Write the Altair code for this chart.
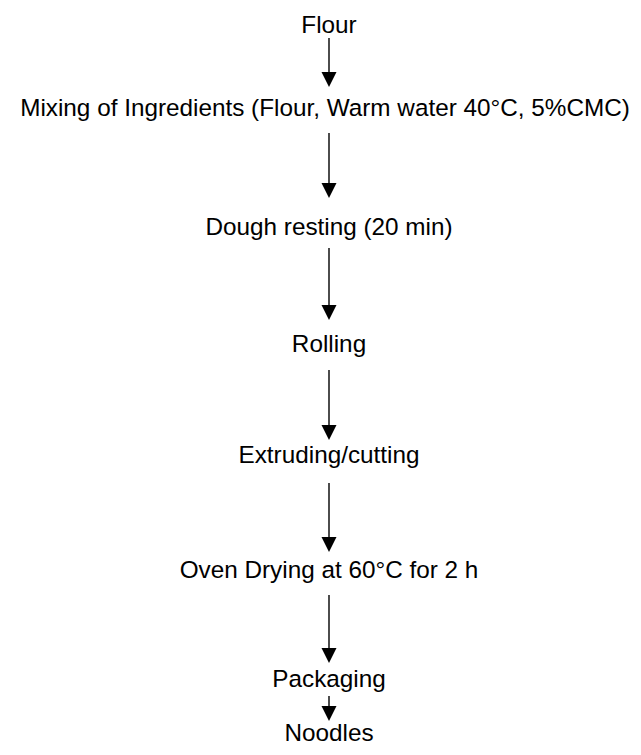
import altair as alt
import pandas as pd

# Flowchart steps (top to bottom), horizontal centres and baseline positions (page px)
steps = [
    "Flour",
    "Mixing of Ingredients (Flour, Warm water 40°C, 5%CMC)",
    "Dough resting (20 min)",
    "Rolling",
    "Extruding/cutting",
    "Oven Drying at 60°C for 2 h",
    "Packaging",
    "Noodles",
]
step_x = [329, 325, 329, 329, 329, 329, 329, 329]
step_y = [33, 116, 235, 352, 463, 578, 687, 741]

# Arrows between consecutive steps: start and tip (page px)
arrow_from = [38, 133, 248, 370, 483, 595, 696]
arrow_to = [87, 198, 320, 440, 552, 663, 721]

center_x = 329
head = 15

steps_df = pd.DataFrame({"label": steps, "y": step_y, "x": step_x})
arrows_df = pd.DataFrame({
    "x": [center_x] * len(arrow_from),
    "y": arrow_from,
    "y2": [t - head + 2 for t in arrow_to],
    "hy": [t - head / 2 for t in arrow_to],
})

xs = alt.Scale(domain=[8, 633], nice=False, zero=False)
ys = alt.Scale(domain=[8, 747], nice=False, zero=False, reverse=True)

text = alt.Chart(steps_df).mark_text(
    font="Liberation Sans", fontSize=24.3, color="black", align="center", baseline="alphabetic"
).encode(
    x=alt.X("x:Q", scale=xs, axis=None),
    y=alt.Y("y:Q", scale=ys, axis=None),
    text="label:N",
)

lines = alt.Chart(arrows_df).mark_rule(color="black", strokeWidth=1.4).encode(
    x=alt.X("x:Q", scale=xs, axis=None),
    y=alt.Y("y:Q", scale=ys, axis=None),
    y2="y2:Q",
)

heads = alt.Chart(arrows_df).mark_point(
    shape="M-1,-1L1,-1L0,1Z", filled=True, color="black", size=head * head, opacity=1, strokeWidth=0
).encode(
    x=alt.X("x:Q", scale=xs, axis=None),
    y=alt.Y("hy:Q", scale=ys, axis=None),
)

chart = alt.layer(lines, heads, text).properties(
    width=625, height=739, padding=0, autosize=alt.AutoSizeParams(type="none")
).configure(background="white").configure_view(stroke=None, strokeWidth=0)

chart.save("out.html", embed_options={"renderer": "svg", "actions": False})
